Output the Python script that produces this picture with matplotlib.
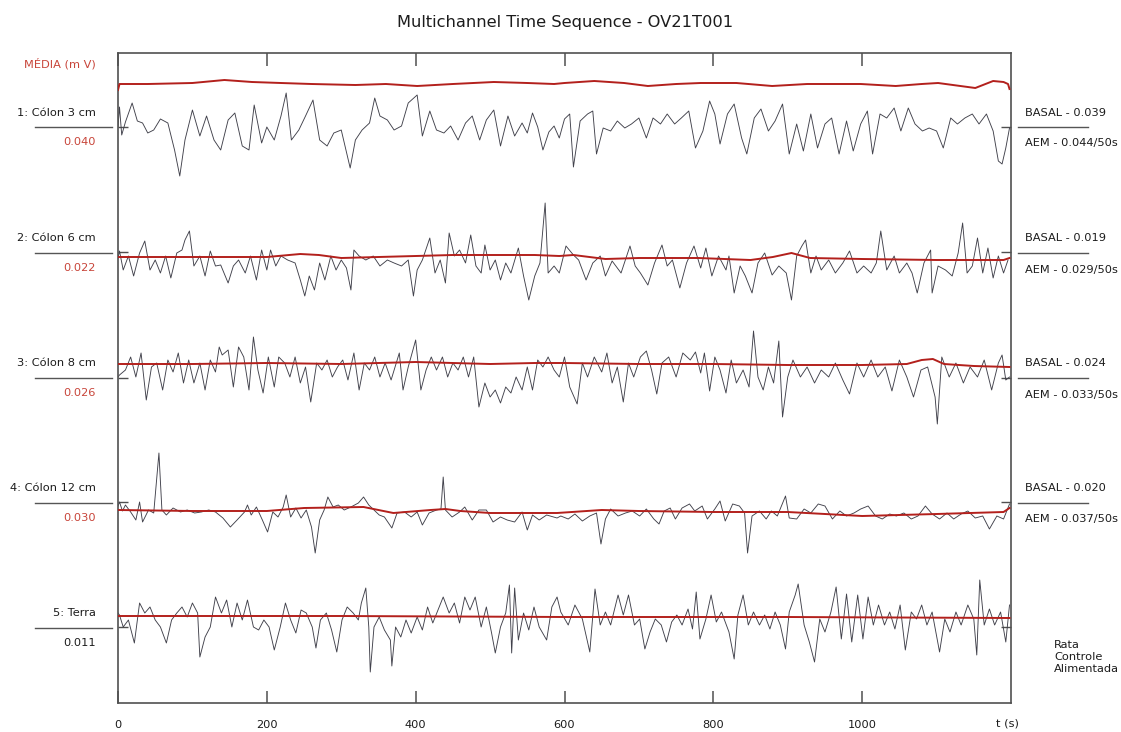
import matplotlib
matplotlib.use("Agg")
import matplotlib.pyplot as plt
from matplotlib.lines import Line2D

plt.rcParams["font.family"] = ["DejaVu Sans"]

# channel traces: time (s) and deviation from the channel level (display units)
c1_t = [0, 2, 5, 10, 19, 26, 33, 40, 48, 57, 67, 76, 83, 90, 100, 110, 119, 129, 138, 148,
        157, 167, 176, 183, 193, 200, 210, 219, 226, 233, 243, 252, 262, 271, 281, 290, 300, 312, 319, 328,
        338, 345, 352, 362, 371, 381, 390, 402, 409, 419, 428, 438, 447, 457, 467, 476, 486, 495, 505, 514,
        524, 533, 543, 550, 557, 564, 571, 579, 586, 593, 600, 607, 612, 621, 631, 638, 643, 652, 662, 671,
        681, 690, 700, 710, 719, 729, 738, 748, 757, 767, 776, 786, 795, 802, 809, 819, 828, 838, 845, 855,
        864, 874, 883, 893, 902, 912, 921, 931, 940, 950, 959, 969, 979, 988, 998, 1007, 1014, 1024, 1033, 1043,
        1052, 1062, 1071, 1081, 1090, 1100, 1109, 1119, 1128, 1138, 1148, 1157, 1167, 1176, 1183, 1188, 1193, 1198]
c1_v = [0, 20, -8, 5, 24, 6, 4, -6, -3, 8, 4, -23, -49, -13, 17, -9, 11, -13, -23, 7,
        14, -19, -23, 22, -16, 0, -13, 11, 34, -13, -3, 11, 27, -13, -19, -6, -3, -41, -13, -3,
        4, 29, 11, 7, -3, 1, 24, 32, -9, 16, -3, -6, 1, -13, 4, 11, -13, 7, 17, -19,
        11, -9, 4, -6, 14, 0, -23, -5, 1, -11, 8, 13, -40, 6, 13, 16, -27, -1, -4, 6,
        -1, 3, 9, -11, 9, 3, 13, 3, 9, 16, -21, -4, 26, 13, -17, 13, 23, -11, -27, 9,
        18, -4, 6, 23, -27, 3, -24, 13, -21, 3, 9, -27, 6, -24, 3, 16, -27, 13, 9, 19,
        -4, 19, 3, -4, -1, -4, -21, 9, 3, 9, 13, 3, 13, -4, -34, -37, -21, -1]

c2_t = [0, 2, 7, 14, 21, 29, 36, 43, 50, 57, 64, 71, 79, 86, 90, 96, 102, 110, 117, 124,
        131, 138, 148, 155, 162, 171, 178, 186, 193, 200, 205, 212, 219, 228, 238, 245, 251, 257, 264, 271,
        278, 286, 293, 300, 307, 313, 317, 324, 333, 343, 352, 362, 371, 381, 390, 397, 402, 409, 419, 426,
        433, 440, 445, 452, 459, 467, 474, 481, 488, 493, 500, 507, 514, 521, 528, 538, 545, 552, 560, 567,
        574, 578, 586, 593, 602, 612, 619, 629, 638, 648, 655, 664, 676, 688, 695, 702, 712, 721, 731, 738,
        745, 755, 764, 774, 783, 790, 798, 807, 817, 821, 828, 836, 843, 852, 860, 869, 879, 888, 898, 905,
        912, 919, 924, 931, 938, 945, 955, 964, 974, 983, 993, 1002, 1012, 1019, 1025, 1033, 1043, 1050, 1060, 1067,
        1074, 1083, 1092, 1094, 1102, 1112, 1121, 1129, 1135, 1141, 1148, 1155, 1162, 1169, 1176, 1183, 1190, 1196]
c2_v = [0, 7, -12, 2, -18, 5, 17, -12, -2, -15, 2, -20, 5, 8, 18, 27, -8, 2, -18, 7,
        -8, -7, -25, -8, -2, -15, 2, -22, 8, -12, 8, -8, 2, -2, -5, -22, -38, -18, -32, -5,
        -22, 2, -12, -2, -10, -32, 8, 2, -2, 2, -8, -2, -5, -8, -2, -38, -12, -2, 20, -15,
        -2, -25, 25, 2, 8, -5, 23, -8, -15, 13, -12, -2, -22, -5, -15, 10, -18, -42, -18, -5,
        55, -15, -8, -15, 12, 3, -2, -22, -5, 2, -18, -3, -15, 12, -8, -15, -27, -5, 13, -8,
        -2, -30, -5, 12, -10, 10, -18, 2, -12, 2, -35, -8, -18, -35, -5, 5, -17, -8, -15, -42,
        2, 12, 18, -15, 2, -12, -2, -15, -5, 7, -15, -8, -15, -5, 27, -12, 2, -15, -5, -15,
        -35, -5, 8, -35, -8, -12, -18, 5, 35, -15, -8, 20, -15, 10, -20, 2, -15, -2]

c3_t = [0, 2, 10, 17, 24, 31, 38, 45, 52, 60, 67, 74, 81, 88, 95, 102, 110, 117, 124, 131,
        136, 140, 148, 155, 162, 169, 176, 182, 188, 195, 202, 210, 216, 224, 231, 238, 245, 252, 259, 267,
        274, 281, 288, 295, 302, 309, 317, 324, 331, 338, 345, 352, 359, 367, 374, 378, 383, 390, 400, 407,
        414, 421, 428, 436, 443, 450, 457, 464, 471, 478, 485, 493, 500, 507, 514, 521, 528, 535, 543, 550,
        557, 564, 571, 578, 586, 593, 600, 607, 617, 624, 631, 640, 650, 657, 664, 671, 679, 686, 693, 702,
        710, 717, 724, 731, 740, 750, 759, 769, 776, 783, 788, 795, 802, 809, 817, 824, 831, 840, 848, 854,
        860, 867, 874, 881, 888, 893, 900, 907, 917, 926, 936, 945, 955, 964, 974, 983, 993, 1002, 1012, 1021,
        1031, 1040, 1050, 1060, 1069, 1079, 1088, 1098, 1101, 1107, 1117, 1126, 1136, 1145, 1155, 1164, 1174, 1183, 1188, 1193, 1198]
c3_v = [-13, -11, -6, 7, -13, 11, -36, -3, 1, -26, 4, -8, 11, -19, 4, -19, 1, -26, 4, -8,
        17, 9, 14, -23, 17, 7, -26, 27, -6, -29, 7, -23, 7, 1, -13, 7, -19, -3, -38, 1,
        -6, 4, -13, -3, 4, -16, 11, -26, 1, -6, 7, -13, 1, -16, 1, 11, -26, -3, 24, -26,
        -6, 7, -6, 7, -13, 1, -6, 7, -13, 7, -43, -19, -33, -26, -39, -23, -29, -13, -26, -3,
        -26, 4, -3, 7, -6, -13, 7, -23, -40, 1, -13, 7, -8, 11, -19, -3, -38, 1, -13, 7,
        13, -6, -30, 1, 7, -13, 11, 4, 12, -9, 11, -27, 7, -6, -29, 4, -19, -6, -23, 33,
        -13, -26, -3, -19, 23, -53, -13, 4, -13, -3, -19, -6, -13, 1, -16, -30, 1, -13, 4, -13,
        -3, -27, 4, -13, -33, -6, -3, -33, -60, 7, -13, 1, -19, -3, -13, 4, -26, 1, 9, -16, -13]

c4_t = [0, 2, 6, 10, 17, 24, 29, 33, 41, 48, 55, 59, 65, 74, 84, 93, 103, 112, 122, 131,
        141, 151, 160, 170, 174, 179, 186, 194, 201, 208, 215, 222, 226, 232, 239, 246, 253, 260, 265, 271,
        277, 282, 289, 296, 304, 313, 323, 330, 337, 344, 351, 358, 368, 375, 385, 394, 402, 409, 418, 428,
        434, 437, 440, 449, 459, 466, 476, 485, 495, 504, 514, 523, 533, 543, 550, 557, 566, 576, 590, 595,
        605, 614, 624, 634, 643, 649, 655, 662, 672, 682, 691, 701, 710, 720, 727, 734, 742, 749, 758, 768,
        775, 785, 792, 802, 809, 816, 826, 835, 842, 846, 852, 862, 871, 878, 886, 897, 902, 912, 922, 931,
        941, 950, 960, 970, 979, 989, 998, 1008, 1018, 1027, 1037, 1046, 1056, 1066, 1075, 1085, 1094, 1104, 1114, 1123,
        1133, 1142, 1152, 1162, 1171, 1181, 1190, 1198]
c4_v = [5, 9, 0, 6, -1, -9, 9, -11, 1, -2, 58, 1, -4, 3, -1, 1, -2, -1, 1, -1,
        -7, -16, -9, -1, 6, -4, 4, -9, -21, -1, -6, 4, 16, -6, 3, -7, 1, -16, -42, -9,
        1, 14, 4, 6, 1, 4, 8, 14, 6, 1, -4, -6, -17, -2, -1, -6, -1, -14, -2, 1,
        2, 34, 1, -6, -1, 4, -9, 1, 1, -11, -6, -9, -11, -1, -19, -4, -9, -4, -7, -5,
        -8, -3, -10, -5, -2, -33, -8, 2, -5, -2, 0, -5, 2, -8, -13, 0, 3, -8, 3, 7,
        0, 5, -8, 2, 10, -10, 7, 5, -2, -42, -5, 0, -8, 0, -5, 15, -7, -8, 2, -2,
        7, 5, -8, 0, -5, -2, 2, 5, -5, -8, -3, -5, -2, -8, -5, 5, -3, -8, -2, -8,
        -3, 0, -7, -5, -18, -5, -8, 7]

c5_t = [0, 2, 7, 14, 22, 29, 36, 43, 50, 57, 65, 72, 79, 86, 93, 100, 107, 110, 117, 124,
        131, 139, 146, 153, 160, 167, 174, 182, 189, 196, 203, 210, 218, 225, 232, 239, 246, 253, 261, 266,
        272, 280, 287, 294, 301, 308, 316, 323, 327, 333, 337, 339, 344, 351, 358, 366, 368, 373, 380, 387,
        394, 402, 409, 416, 423, 430, 437, 445, 452, 459, 466, 473, 480, 488, 495, 502, 507, 514, 521, 526,
        529, 533, 538, 545, 552, 559, 566, 576, 583, 590, 595, 605, 614, 624, 634, 641, 648, 655, 662, 672,
        679, 686, 694, 701, 708, 715, 722, 730, 737, 744, 751, 758, 766, 772, 777, 782, 790, 797, 804, 811,
        821, 828, 833, 840, 847, 854, 862, 869, 876, 883, 890, 897, 902, 910, 914, 922, 929, 936, 943, 950,
        958, 965, 972, 979, 986, 994, 1001, 1008, 1015, 1022, 1030, 1037, 1044, 1051, 1058, 1066, 1073, 1080, 1087, 1094,
        1104, 1111, 1118, 1126, 1133, 1142, 1150, 1154, 1158, 1164, 1171, 1178, 1186, 1193, 1198]
c5_v = [3, 1, -11, -4, -27, 13, 3, 9, -4, -11, -27, -4, 3, 9, -1, 13, 3, -41, -21, -11,
        19, 3, 16, -11, 13, -4, 16, -11, -14, -4, -11, -34, -11, 13, -4, -17, 6, 3, -11, -32,
        -4, 3, -14, -36, -4, 9, 3, -4, 13, 28, -11, -56, -11, -1, -14, -24, -50, -11, -21, -4,
        -17, -1, -14, 9, -7, 6, 19, 3, 13, -7, 19, 6, 19, -11, 9, -17, -37, -11, 3, 31,
        -37, 28, -24, 3, -14, 9, -11, -24, 9, 19, 4, -9, 11, -3, -36, 27, -9, 4, -9, 21,
        1, 21, -9, -3, -33, -16, -3, -9, -26, -6, 1, -9, 7, -13, 24, -23, -3, 21, -6, 4,
        -16, -43, 1, 21, -9, 4, -9, 1, -13, 4, -9, -33, 4, 21, 32, -9, -26, -46, -3, -16,
        4, 29, -23, 22, -26, 21, -23, 19, -9, 11, -9, 4, -13, 11, -34, 4, -3, 11, -9, 4,
        -36, -3, -16, 4, -9, 11, -3, -39, 36, -9, 7, -9, 4, -26, 11]

# mean (red) lines
m1_t = [0, 2, 40, 100, 143, 180, 219, 260, 319, 360, 402, 450, 505, 550, 586, 600, 640, 680, 712, 750,
        783, 831, 879, 926, 960, 998, 1045, 1080, 1102, 1152, 1176, 1190, 1196, 1198]
m1_v = [-6, 0, 0, 1, 4, 2, 1, 0, -1, 0, -2, 0, 2, 1, 0, 1, 3, 1, -2, 0,
        1, 1, -2, 0, 0, 0, -2, 0, 1, -4, 3, 2, 0, -5]
m2_t = [0, 100, 200, 245, 270, 300, 400, 450, 500, 560, 593, 612, 655, 700, 780, 850, 880, 905, 930, 1000, 1100, 1190, 1198]
m2_v = [1, 1, 1, 4, 3, 0, 2, 3, 3, 3, 2, 3, -1, 0, 0, -2, 1, 5, 0, -1, -2, -2, 0]
m3_t = [0, 100, 200, 300, 400, 450, 500, 560, 600, 700, 800, 900, 1000, 1060, 1080, 1095, 1110, 1150, 1198]
m3_v = [0, 0, 1, 0, 2, 1, 0, 1, 1, 0, 0, -1, -1, 0, 4, 5, 0, -2, -3]
m4_t = [0, 100, 200, 250, 330, 370, 420, 440, 460, 500, 590, 650, 700, 800, 900, 950, 1000, 1100, 1190, 1198]
m4_v = [1, 0, 0, 3, 4, -2, 1, 2, 0, -2, -2, 1, 0, -1, -1, -3, -5, -3, -1, 3]
m5_t = [0, 300, 600, 900, 1198]
m5_v = [0, 0, -1, -1, -2]

labels = ["1: Cólon 3 cm", "2: Cólon 6 cm", "3: Cólon 8 cm", "4: Cólon 12 cm", "5: Terra"]
means = ["0.040", "0.022", "0.026", "0.030", "0.011"]
basal = ["BASAL - 0.039", "BASAL - 0.019", "BASAL - 0.024", "BASAL - 0.020"]
aem = ["AEM - 0.044/50s", "AEM - 0.029/50s", "AEM - 0.033/50s", "AEM - 0.037/50s"]
xticks = [0, 200, 400, 600, 800, 1000]

W, H = 1121, 732
RED = "#b3201c"
TXT_RED = "#c8453a"
INK = "#1c1c1c"
FS = 8.2

# layout (pixel rows of the original page)
trace_level = [576, 445, 339, 192, 87]
media_level = 619
sep_levels = [576, 451, 325, 201, 76]
label_rows = [113, 238, 363, 488, 613]
sep_rows = [127, 253, 378, 503, 628]
value_rows = [142, 268, 393, 518, 643]
aem_rows = [143, 270, 395, 519]

fig = plt.figure(figsize=(W / 100, H / 100), dpi=100)
ax = fig.add_axes([118 / W, 29 / H, (1011 - 118) / W, (703 - 53) / H])
ax.set_xlim(0, 1200)
ax.set_ylim(0, 650)

traces = [(c1_t, c1_v), (c2_t, c2_v), (c3_t, c3_v), (c4_t, c4_v), (c5_t, c5_v)]
mean_lines = [(m2_t, m2_v), (m3_t, m3_v), (m4_t, m4_v), (m5_t, m5_v)]

for (t, v), lvl in zip(traces, trace_level):
    ax.plot(t, [lvl + d for d in v], color="#41414b", lw=0.65, zorder=2)

ax.plot(m1_t, [media_level + d for d in m1_v], color=RED, lw=1.4, zorder=3)
for (t, v), lvl in zip(mean_lines, trace_level[1:]):
    ax.plot(t, [lvl + d for d in v], color=RED, lw=1.4, zorder=3)

for s in ax.spines.values():
    s.set_color("#505050")
    s.set_linewidth(1.2)

ax.set_xticks(xticks)
ax.set_xticklabels([str(x) for x in xticks], fontsize=FS, color=INK)
ax.set_yticks(sep_levels)
ax.tick_params(axis="x", direction="in", length=9, width=1.1, top=True, pad=12, color="#505050")
ax.tick_params(axis="y", direction="in", length=7, width=1.0, right=True, labelleft=False, color="#505050")
ax.text(1195, -21, "t (s)", fontsize=FS, ha="center", va="center", color=INK)

fig.text(565 / W, 1 - 22 / H, "Multichannel Time Sequence - OV21T001", fontsize=11.7, ha="center", va="center",
         color=INK)
fig.text(96 / W, 1 - 64 / H, "MÉDIA (m V)", fontsize=FS, ha="right", va="center", color=TXT_RED)

for i, name in enumerate(labels):
    fig.text(96 / W, 1 - label_rows[i] / H, name, fontsize=FS, ha="right", va="center", color=INK)
    fig.add_artist(Line2D([35 / W, 112 / W], [1 - sep_rows[i] / H] * 2, color="#555555", lw=1.0))
    col = TXT_RED if i < 4 else INK
    fig.text(96 / W, 1 - value_rows[i] / H, means[i], fontsize=FS, ha="right", va="center", color=col)

for i in range(4):
    fig.text(1025 / W, 1 - label_rows[i] / H, basal[i], fontsize=FS, ha="left", va="center", color=INK)
    fig.add_artist(Line2D([1018 / W, 1088 / W], [1 - sep_rows[i] / H] * 2, color="#555555", lw=1.0))
    fig.text(1025 / W, 1 - aem_rows[i] / H, aem[i], fontsize=FS, ha="left", va="center", color=INK)

fig.text(1054 / W, 1 - 657 / H, "Rata\nControle\nAlimentada", fontsize=FS, ha="left", va="center",
         color=INK, linespacing=1.3)

fig.savefig("out.png", dpi=100)
